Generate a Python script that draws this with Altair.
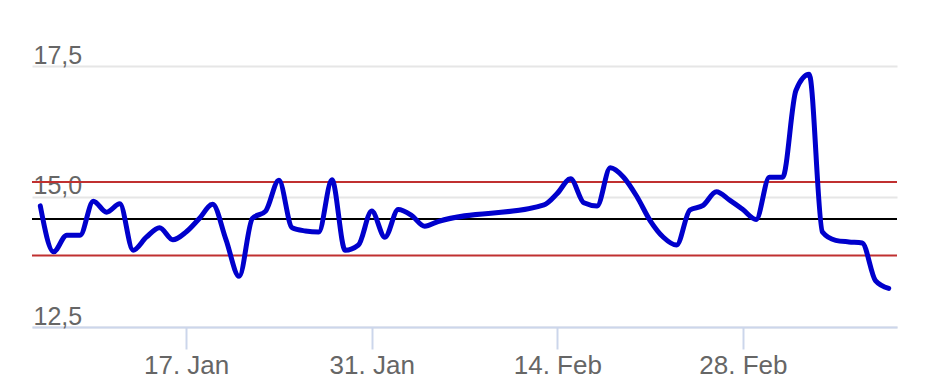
import altair as alt
import pandas as pd

# ---- data ----
dates = [
    "2013-01-06", "2013-01-07", "2013-01-08", "2013-01-09", "2013-01-10", "2013-01-11",
    "2013-01-12", "2013-01-13", "2013-01-14", "2013-01-15", "2013-01-16", "2013-01-17",
    "2013-01-18", "2013-01-19", "2013-01-20", "2013-01-21", "2013-01-22", "2013-01-23",
    "2013-01-24", "2013-01-25", "2013-01-26", "2013-01-27", "2013-01-28", "2013-01-29",
    "2013-01-30", "2013-01-31", "2013-02-01", "2013-02-02", "2013-02-03", "2013-02-04",
    "2013-02-05", "2013-02-13", "2013-02-14", "2013-02-15", "2013-02-16", "2013-02-17",
    "2013-02-18", "2013-02-19", "2013-02-20", "2013-02-21", "2013-02-22", "2013-02-23",
    "2013-02-24", "2013-02-25", "2013-02-26", "2013-02-27", "2013-02-28", "2013-03-01",
    "2013-03-02", "2013-03-03", "2013-03-04", "2013-03-05", "2013-03-06", "2013-03-07",
    "2013-03-08", "2013-03-09", "2013-03-10", "2013-03-11",
]
values = [
    14.82, 13.94, 14.26, 14.26, 14.91, 14.70,
    14.86, 13.97, 14.22, 14.40, 14.17, 14.32,
    14.58, 14.85, 14.18, 13.47, 14.58, 14.72,
    15.31, 14.40, 14.34, 14.32, 15.32, 13.97,
    14.07, 14.72, 14.22, 14.75, 14.64, 14.43,
    14.52, 14.84, 15.06, 15.34, 14.88, 14.82,
    15.55, 15.37, 15.00, 14.54, 14.22, 14.07,
    14.74, 14.83, 15.09, 14.93, 14.75, 14.56,
    15.37, 15.37, 17.03, 17.34, 14.32, 14.16,
    14.13, 14.11, 13.39, 13.24,
]
limit_values = [15.28, 13.87]
mean_value = [14.57]
y_ticks = [12.5, 15.0, 17.5]
x_ticks = ["2013-01-17", "2013-01-31", "2013-02-14", "2013-02-28"]
x_domain = ["2013-01-05T09:00:00", "2013-03-11T15:00:00"]

FONT = "Liberation Sans"


def ms(s):
    return int(pd.Timestamp(s, tz="UTC").value // 10**6)


df = pd.DataFrame({"date": dates, "value": values})
limits_df = pd.DataFrame({"y": limit_values})
mean_df = pd.DataFrame({"y": mean_value})

x_scale = alt.Scale(type="utc", domain=[ms(d) for d in x_domain])
y_scale = alt.Scale(domain=[12.5, 17.5], nice=False, zero=False)

x_axis = alt.Axis(
    title=None,
    values=[ms(d) for d in x_ticks],
    labelExpr="utcFormat(datum.value, '%-d. %b')",
    grid=False,
    domainColor="#ccd6eb",
    domainWidth=2,
    tickColor="#ccd6eb",
    tickWidth=2,
    tickSize=22,
    labelPadding=3,
    labelFontSize=26,
    labelFont=FONT,
    labelColor="#666666",
    labelFlush=False,
)
y_axis = alt.Axis(
    title=None,
    values=y_ticks,
    labelExpr="replace(format(datum.value, '.1f'), '.', ',')",
    domain=False,
    ticks=False,
    tickSize=0,
    grid=True,
    gridColor="#e6e6e6",
    gridWidth=2,
    labelAlign="left",
    labelBaseline="alphabetic",
    labelPadding=-1,
    labelOffset=-3,
    labelFontSize=25,
    labelFont=FONT,
    labelColor="#666666",
)

line = alt.Chart(df).mark_line(
    color="#0000cc", strokeWidth=5, interpolate="monotone", strokeCap="round", strokeJoin="round"
).encode(
    x=alt.X("date:T", scale=x_scale, axis=x_axis),
    y=alt.Y("value:Q", scale=y_scale, axis=y_axis),
)

limits = alt.Chart(limits_df).mark_rule(color="#c03030", strokeWidth=2).encode(
    y=alt.Y("y:Q", scale=y_scale)
)
mean = alt.Chart(mean_df).mark_rule(color="#000000", strokeWidth=2).encode(
    y=alt.Y("y:Q", scale=y_scale)
)

chart = alt.layer(limits, mean, line).properties(
    width=865,
    height=261,
    autosize=alt.AutoSizeParams(type="none"),
    padding={"left": 24, "top": 58, "right": 17, "bottom": 60},
    background="white",
).configure_view(stroke=None, strokeWidth=0)

chart.save("out.html", embed_options={"renderer": "svg", "actions": False})
